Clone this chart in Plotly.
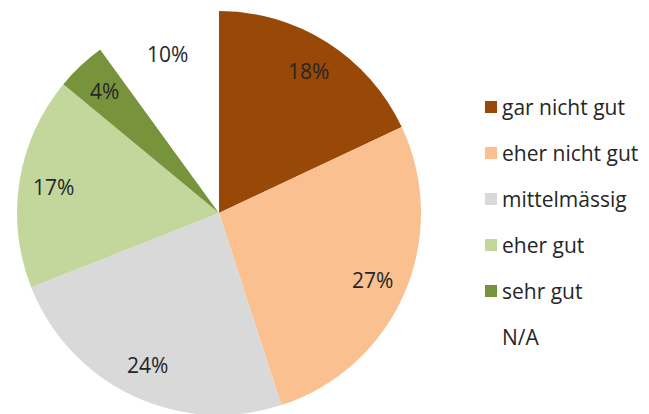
import math
import plotly.graph_objects as go

labels = ["gar nicht gut", "eher nicht gut", "mittelmässig", "eher gut", "sehr gut", "N/A"]
values = [18, 27, 24, 17, 4, 10]
colors = ["#984807", "#FAC090", "#D9D9D9", "#C3D69B", "#77933C", "#FFFFFF"]

W, H = 649, 414
OFF = 8  # Seitenrand des Browsers
cx, cy, R = 219 - OFF, 213 - OFF, 202  # Kreismitte und Radius in Pixel


def px(x):
    return (x) / W


def py(y):
    return 1 - y / H


fig = go.Figure()
fig.add_trace(go.Pie(
    labels=labels, values=values, sort=False, direction="clockwise", rotation=0,
    marker=dict(colors=colors, line=dict(width=0)),
    textinfo="none",
    domain=dict(x=[px(cx - R), px(cx + R)], y=[py(cy + R), py(cy - R)]),
    showlegend=False, hoverinfo="label+percent",
))

# Prozentwerte bei ca. 83% des Radius
total = sum(values)
cum = 0
annotations = []
for v in values:
    ang = (cum + v / 2) / total * 2 * math.pi
    cum += v
    r = 0.83 * R
    annotations.append(dict(
        x=px(cx + r * math.sin(ang)), y=py(cy - r * math.cos(ang)),
        xref="paper", yref="paper", showarrow=False,
        xanchor="center", yanchor="middle",
        text=f"{v}%", font=dict(size=21, color="#262626"),
    ))

# Legende von Hand
shapes = []
for i, (lab, col) in enumerate(zip(labels, colors)):
    ym = 107 - OFF + i * 46
    x0 = 485 - OFF
    shapes.append(dict(
        type="rect", xref="paper", yref="paper",
        x0=px(x0), x1=px(x0 + 12), y0=py(ym + 6), y1=py(ym - 6),
        fillcolor=col, line=dict(width=0),
    ))
    annotations.append(dict(
        x=px(x0 + 15), y=py(ym), xref="paper", yref="paper", showarrow=False,
        xanchor="left", yanchor="middle", text=lab,
        font=dict(size=21, color="#262626"),
    ))

fig.update_layout(
    width=W, height=H,
    margin=dict(l=0, r=0, t=0, b=0),
    paper_bgcolor="white", plot_bgcolor="white",
    font=dict(family="Open Sans", color="#262626"),
    annotations=annotations, shapes=shapes,
)

fig.write_html("out.html")
